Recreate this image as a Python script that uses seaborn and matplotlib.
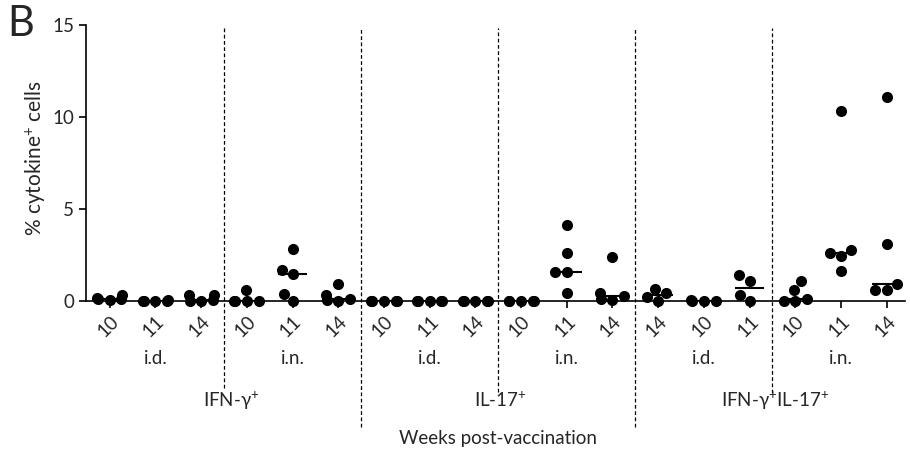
import pandas as pd
import matplotlib.pyplot as plt
import seaborn as sns
import seaborn.categorical as sns_cat


# week labels under each column, left to right
WEEK_LABELS = ["10", "11", "14", "10", "11", "14",
               "10", "11", "14", "10", "11", "14",
               "14", "10", "11", "10", "11", "14"]
ROUTES = ["i.d.", "i.n."]
CYTOKINES = ["IFN-γ$^{+}$", "IL-17$^{+}$", "IFN-γ$^{+}$IL-17$^{+}$"]

# % cytokine+ cells, one list per column
ifng_id_10 = [0.35, 0.15, 0.1, 0.05, 0.1]
ifng_id_11 = [0.02, 0.0, 0.01, 0.03, 0.0]
ifng_id_14 = [0.3, 0.0, 0.35, 0.05, 0.0]
ifng_in_10 = [0.6, 0.0, 0.0, 0.0, 0.0]
ifng_in_11 = [2.8, 1.7, 1.45, 0.4, 0.0]
ifng_in_14 = [0.9, 0.3, 0.1, 0.0, 0.05]

il17_id_10 = [0.0, 0.0, 0.0, 0.0, 0.0]
il17_id_11 = [0.0, 0.0, 0.0, 0.0, 0.0]
il17_id_14 = [0.0, 0.0, 0.0, 0.0, 0.0]
il17_in_10 = [0.0, 0.0, 0.0, 0.0, 0.0]
il17_in_11 = [4.15, 2.6, 1.6, 1.6, 0.45]
il17_in_14 = [2.4, 0.45, 0.25, 0.05, 0.1]

dp_id_14 = [0.45, 0.0, 0.65, 0.2]
dp_id_10 = [0.0, 0.0, 0.05, 0.0]
dp_id_11 = [1.4, 0.0, 1.1, 0.33]
dp_in_10 = [0.1, 0.0, 1.1, 0.6, 0.0]
dp_in_11 = [10.35, 2.75, 2.6, 2.45, 1.65]
dp_in_14 = [11.1, 3.1, 0.92, 0.6, 0.6]

COLUMNS = [ifng_id_10, ifng_id_11, ifng_id_14, ifng_in_10, ifng_in_11, ifng_in_14,
           il17_id_10, il17_id_11, il17_id_14, il17_in_10, il17_in_11, il17_in_14,
           dp_id_14, dp_id_10, dp_id_11, dp_in_10, dp_in_11, dp_in_14]


class NarrowSwarm(sns_cat.Beeswarm):
    # swarmplot has no width option in 0.13, keep the swarms tighter than 0.8
    def __init__(self, width=0.8, **kwargs):
        super().__init__(width=0.55, **kwargs)


sns_cat.Beeswarm = NarrowSwarm


def build_frame() -> pd.DataFrame:
    rows = []
    for i, values in enumerate(COLUMNS):
        for v in values:
            rows.append({"group": f"g{i}", "value": v})
    return pd.DataFrame(rows)


def main() -> None:
    sns.set_style("ticks")
    plt.rcParams["font.family"] = ["Lato", "DejaVu Sans"]
    plt.rcParams["mathtext.fontset"] = "custom"
    plt.rcParams["mathtext.rm"] = "Lato"
    plt.rcParams["mathtext.it"] = "Lato"

    df = build_frame()
    order = [f"g{i}" for i in range(len(COLUMNS))]

    fig = plt.figure(figsize=(9.1, 4.55), dpi=100)
    ax = fig.add_axes([0.0945, 0.3385, 0.9, 0.6065])

    sns.boxplot(data=df, x="group", y="value", order=order, ax=ax,
                width=0.65, showbox=False, showcaps=False, showfliers=False,
                whiskerprops={"visible": False},
                medianprops={"color": "black", "linewidth": 1.5})
    sns.swarmplot(data=df, x="group", y="value", order=order, ax=ax,
                  color="black", size=8, warn_thresh=1.0)
    for c in ax.collections:
        c.set_clip_on(False)
        c.set_zorder(3)

    ax.set_ylim(0, 15)
    ax.set_xlim(-0.52, 17.4)
    ax.set_yticks([0, 5, 10, 15])
    ax.set_xticks(range(len(WEEK_LABELS)))
    ax.set_xticklabels(WEEK_LABELS, rotation=45, ha="right", rotation_mode="anchor")
    ax.tick_params(axis="both", labelsize=13.5, length=5, width=1.2, color="black")
    ax.set_xlabel("")
    ax.set_ylabel("% cytokine$^{+}$ cells", fontsize=15)
    ax.yaxis.set_label_coords(-0.046, 0.52)
    for s in ["top", "right"]:
        ax.spines[s].set_visible(False)
    for s in ["left", "bottom"]:
        ax.spines[s].set_linewidth(1.2)
        ax.spines[s].set_color("black")

    # separators: short ones between routes, long ones between cytokines
    for x, low in [(2.5, -0.315), (5.5, -0.457), (8.5, -0.33),
                   (11.5, -0.457), (14.5, -0.335)]:
        ax.axvline(x, ymin=low, ymax=0.99, color="black", lw=0.9,
                   linestyle=(0, (3, 2)), clip_on=False)

    trans = ax.get_xaxis_transform()
    for k in range(3):
        for r, route in enumerate(ROUTES):
            ax.text(6 * k + 3 * r + 1, -0.207, route, transform=trans,
                    ha="center", va="center", fontsize=13.5)
    for k, (cyto, xc) in enumerate(zip(CYTOKINES, [2.65, 8.55, 14.55])):
        ax.text(xc, -0.36, cyto, transform=trans, ha="center", va="center", fontsize=13.5)

    fig.text(0.547, 0.037, "Weeks post-vaccination", ha="center", va="center", fontsize=13.5)
    fig.text(0.008, 0.99, "B", ha="left", va="top", fontsize=30)

    fig.savefig("out.png", dpi=100)


if __name__ == "__main__":
    main()
